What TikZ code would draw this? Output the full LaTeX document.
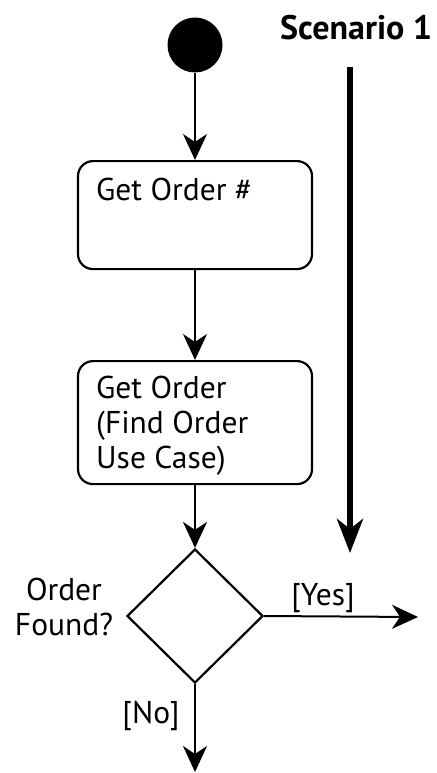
\documentclass[tikz,border=0pt]{standalone}
\usepackage{fontspec}
\setmainfont{PT Sans}
\usetikzlibrary{arrows.meta,shapes.geometric}
\begin{document}
\begin{tikzpicture}[x=1pt,y=-1pt,
  txt/.style={font=\fontsize{31.5}{35}\selectfont, inner sep=0pt},
  act/.style={draw, line width=2.2pt, rounded corners=15pt, minimum width=234pt, inner sep=0pt},
  flow/.style={line width=2pt, -{Stealth[length=26pt,width=24pt,inset=8pt]}},
  thick flow/.style={line width=6pt, -{Stealth[length=34pt,width=26pt,inset=10pt]}},
]
\useasboundingbox (0,0) rectangle (436,773);
\node[fill=black, circle, minimum size=55pt, inner sep=0pt] (start) at (195,45) {};
\node[act, minimum height=108pt, anchor=north] (a1) at (195,160) {};
\node[txt, anchor=base west] (t1) at (96,200) {Get Order \#};
\node[act, minimum height=123pt, anchor=north] (a2) at (195,360) {};
\node[txt, anchor=north west, align=left] (t2) at (96,376) {Get Order\\(Find Order\\Use Case)};
\node[draw, diamond, line width=2.2pt, minimum width=136pt, minimum height=134pt, inner sep=0pt] (dec) at (195,616) {};
\node[txt, align=center] (q) at (64,607) {Order\\Found?};
\node[txt, anchor=base] (yes) at (323,605) {[Yes]};
\node[txt, anchor=base] (no) at (151,723) {[No]};
\node[txt, font=\fontsize{34}{38}\selectfont\bfseries, anchor=base west] (sc) at (280,40) {Scenario 1};
\coordinate (yend) at (418,617);
\coordinate (nend) at (195,772);
\coordinate (stop) at (350,67);
\coordinate (sbot) at (350,553);
\draw[flow] (start) -- (a1);
\draw[flow] (a1) -- (a2);
\draw[flow] (a2) -- (dec.north);
\draw[flow] (dec.east) -- (yend);
\draw[flow] (dec.south) -- (nend);
\draw[thick flow] (stop) -- (sbot);
\end{tikzpicture}
\end{document}
